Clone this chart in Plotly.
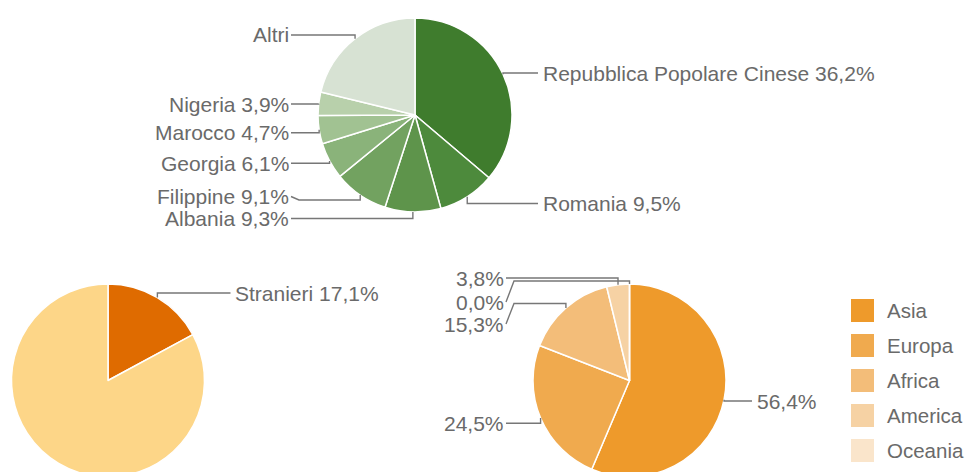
import math
import plotly.graph_objects as go

# Canvas: slightly taller than the 472px window so the two lower pies run off the bottom edge
W, H = 966, 480

# --- Data -------------------------------------------------------------------
paesi = ["Repubblica Popolare Cinese", "Romania", "Albania", "Filippine",
         "Georgia", "Marocco", "Nigeria", "Altri"]
paesi_quote = [36.2, 9.5, 9.3, 9.1, 6.1, 4.7, 3.9, 21.2]

popolazione = ["Stranieri", "Italiani"]
popolazione_quote = [17.1, 82.9]

continenti = ["Asia", "Europa", "Africa", "America", "Oceania"]
continenti_quote = [56.4, 24.5, 15.3, 3.8, 0.0]

# --- Styles -----------------------------------------------------------------
colori_paesi = ["#3f7c2d", "#4d8a3c", "#5e944b", "#72a260", "#8ab37a",
                "#a1c292", "#b8d0ab", "#d7e2d3"]
colori_popolazione = ["#df6b00", "#fdd688"]
colori_continenti = ["#ee9a2b", "#f0aa4e", "#f3bd79", "#f6d2a4", "#fae5cb"]

FONT = "Liberation Sans, Arial, Helvetica, sans-serif"
TEXT_COLOR = "#6a6a6a"
LINE_COLOR = "#777777"
FS = 21

# Pie geometry in pixels: centre x, centre y, radius
TOP = (415, 115, 97)
LEFT = (108, 380.5, 96.5)
RIGHT = (629.5, 380.5, 96.5)


def px(x):
    return x / W


def py(y):
    return 1 - y / H


def domain(geom):
    cx, cy, r = geom
    return dict(x=[px(cx - r), px(cx + r)], y=[py(cy + r), py(cy - r)])


def pct(v):
    return f"{v:.1f}".replace(".", ",") + "%"


fig = go.Figure()


def add_pie(labels, values, colors, geom):
    fig.add_trace(go.Pie(
        labels=labels, values=values, sort=False, direction="clockwise",
        rotation=0, textinfo="none", hoverinfo="label+percent",
        marker=dict(colors=colors, line=dict(color="white", width=1.5)),
        domain=domain(geom), showlegend=False,
    ))


add_pie(paesi, paesi_quote, colori_paesi, TOP)
add_pie(popolazione, popolazione_quote, colori_popolazione, LEFT)
add_pie(continenti, continenti_quote, colori_continenti, RIGHT)

shapes = []
annotations = []


def anchor(values, i, geom):
    """Point on the rim at the middle angle of slice i (clockwise from 12 o'clock)."""
    cx, cy, r = geom
    tot = sum(values)
    start = sum(values[:i])
    mid = (start + values[i] / 2) / tot * 2 * math.pi
    return cx + r * math.sin(mid), cy - r * math.cos(mid)


def callout(values, i, geom, text, side, ly, via=None):
    """Label with an elbow leader line from the text to the slice rim."""
    cx, cy, r = geom
    ax, ay = anchor(values, i, geom)
    col = r + 31  # distance of the label column from the centre
    if side == "left":
        tx = cx - col
        x0 = tx + 4
        step = 8
        xanchor = "right"
        tpos = tx + 3
    else:
        tx = cx + col
        x0 = tx - 5
        step = -8
        xanchor = "left"
        tpos = tx - 1.5
    pts = [(x0, ly)]
    if via is not None:
        pts.append((x0 + step, via))
        pts.append((ax, via))
    else:
        pts.append((ax, ly))
    pts.append((ax, ay))
    path = "M " + " L ".join(f"{px(x):.5f},{py(y):.5f}" for x, y in pts)
    shapes.append(dict(type="path", xref="paper", yref="paper", path=path,
                       line=dict(color=LINE_COLOR, width=1.4)))
    annotations.append(dict(
        x=px(tpos), y=py(ly), xref="paper", yref="paper", text=text,
        showarrow=False, xanchor=xanchor, yanchor="middle", borderpad=0,
        font=dict(family=FONT, size=FS, color=TEXT_COLOR),
    ))


# Top pie labels: (side, label y, optional y of the horizontal run)
top_layout = {
    0: ("right", 73, None),
    1: ("right", 203.5, None),
    2: ("left", 218.5, None),
    3: ("left", 196.5, 200),
    4: ("left", 163.3, None),
    5: ("left", 132.8, None),
    6: ("left", 104, None),
    7: ("left", 35, None),
}
for i, (side, ly, via) in top_layout.items():
    name = paesi[i]
    text = name if name == "Altri" else f"{name} {pct(paesi_quote[i])}"
    callout(paesi_quote, i, TOP, text, side, ly, via)

# Lower-left pie: only the foreign share is labelled
callout(popolazione_quote, 0, LEFT,
        f"{popolazione[0]} {pct(popolazione_quote[0])}", "right", 293)

# Lower-right pie: percentages only
right_layout = {
    0: ("right", 401, None),
    1: ("left", 423.3, None),
    2: ("left", 324, 303.5),
    3: ("left", 278, None),
    4: ("left", 302, 281),
}
for i, (side, ly, via) in right_layout.items():
    callout(continenti_quote, i, RIGHT, pct(continenti_quote[i]), side, ly, via)

# Legend for the continents
for k, (name, col) in enumerate(zip(continenti, colori_continenti)):
    yc = 310.5 + 35 * k
    shapes.append(dict(type="rect", xref="paper", yref="paper",
                       x0=px(851), x1=px(874), y0=py(yc + 11.5), y1=py(yc - 11.5),
                       fillcolor=col, line=dict(width=0)))
    annotations.append(dict(
        x=px(886), y=py(yc), xref="paper", yref="paper", text=name,
        showarrow=False, xanchor="left", yanchor="middle", borderpad=0,
        font=dict(family=FONT, size=20.5, color=TEXT_COLOR),
    ))

fig.update_layout(
    width=W, height=H,
    margin=dict(l=0, r=0, t=0, b=0),
    paper_bgcolor="white", plot_bgcolor="white",
    shapes=shapes, annotations=annotations,
    showlegend=False,
)

fig.write_html(
    "out.html",
    config={"displayModeBar": False},
    post_script=(
        "document.documentElement.style.overflow='hidden';"
        "document.body.style.overflow='hidden';"
        "document.body.style.margin='0';"
    ),
)
